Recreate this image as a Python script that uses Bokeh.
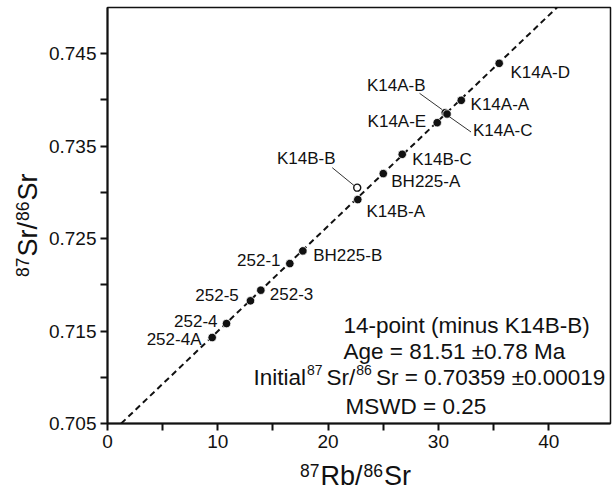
import math
from bokeh.plotting import figure
from bokeh.layouts import row, column
from bokeh.models import (Range1d, FixedTicker, PrintfTickFormatter, Label,
                          ColumnDataSource, Div)
from bokeh.core.properties import value
from bokeh.embed import file_html
from bokeh.resources import INLINE

# ---- data ----
names = ["252-4A", "252-4", "252-5", "252-3", "252-1", "BH225-B", "K14B-A",
         "BH225-A", "K14B-C", "K14A-E", "K14A-B", "K14A-C", "K14A-A", "K14A-D"]
rb_sr = [9.49, 10.79, 12.96, 13.90, 16.53, 17.71, 22.69,
         25.00, 26.72, 29.89, 30.62, 30.78, 32.07, 35.51]
sr_sr = [0.71430, 0.71581, 0.71827, 0.71942, 0.72230, 0.72367, 0.72922,
         0.73203, 0.73412, 0.73754, 0.73862, 0.73848, 0.73996, 0.74396]
excluded_names = ["K14B-B"]
excluded_rb_sr = [22.64]
excluded_sr_sr = [0.73051]
isochron_x = [1.24, 40.75]
isochron_y = [0.705, 0.750]
x_major = [0, 10, 20, 30, 40]
x_minor = [5, 15, 25, 35]
y_major = [0.705, 0.715, 0.725, 0.735, 0.745]
y_minor = [0.710, 0.720, 0.730, 0.740]
x_title = [("87", "s"), ("Rb/", "m"), ("86", "s"), ("Sr", "m")]
y_title = [("87", "s"), ("Sr/", "m"), ("86", "s"), ("Sr", "m")]
stats_line1 = "14-point (minus K14B-B)"
stats_line2 = "Age = 81.51 \u00b10.78 Ma"
stats_line3 = [("Initial", "m"), ("87", "s"), ("Sr/", "m"), ("86", "s"),
               ("Sr = 0.70359  \u00b10.00019", "m")]
stats_line4 = "MSWD = 0.25"

# ---- layout ----
W, H = 612, 491
YDIV_W = 45
XDIV_H = 31
PW, PH = W - YDIV_W, H - XDIV_H
LEFT, RIGHT, TOP, BOTTOM = 62, 2, 7, 37          # borders inside the plot
X0, X1 = 0.0, 45.6
Y0, Y1 = 0.705, 0.750
FW = PW - LEFT - RIGHT
FH = PH - TOP - BOTTOM
PX_X = FW / (X1 - X0)
PX_Y = FH / (Y1 - Y0)
FONT = "Liberation Sans"
INK = "#111111"


def data_x(px):          # px measured on the whole page
    return X0 + (px - YDIV_W - LEFT) / PX_X


def data_y(py):
    return Y0 + (TOP + FH - py) / PX_Y


# Arial / Liberation Sans advance widths (em)
ADV = {c: 0.556 for c in "0123456789"}
ADV.update({" ": 0.278, ".": 0.278, "=": 0.584, "\u00b1": 0.549, "I": 0.278,
            "n": 0.556, "i": 0.222, "t": 0.278, "a": 0.556, "l": 0.222,
            "S": 0.667, "r": 0.333, "/": 0.278, "R": 0.722, "b": 0.556})


def text_width(s, size):
    return sum(ADV.get(c, 0.556) for c in s) * size


def rich_text(fig, parts, px, py, main, sup, raise_px, pre=1.0, post=4.0):
    adv = 0.0
    for txt, kind in parts:
        size = sup if kind == "s" else main
        if kind == "s":
            adv += pre
        fig.add_layout(Label(x=data_x(px + adv),
                             y=data_y(py - (raise_px if kind == "s" else 0.0)),
                             text=txt, text_font=FONT, text_font_size=f"{size}px",
                             text_align="left", text_baseline="alphabetic",
                             text_color=INK))
        adv += text_width(txt, size) + (post if kind == "s" else 0.0)


p = figure(width=PW, height=PH, output_backend="svg", toolbar_location=None,
           x_range=Range1d(X0, X1), y_range=Range1d(Y0, Y1),
           min_border_left=LEFT, min_border_right=RIGHT,
           min_border_top=TOP, min_border_bottom=BOTTOM)
p.grid.visible = False
p.background_fill_color = "white"
p.border_fill_color = "white"
p.outline_line_color = INK
p.outline_line_width = 1.5

for ax, maj, mnr, fmt in ((p.xaxis[0], x_major, x_minor, "%d"),
                          (p.yaxis[0], y_major, y_minor, "%.3f")):
    ax.ticker = FixedTicker(ticks=maj, minor_ticks=mnr)
    ax.formatter = PrintfTickFormatter(format=fmt)
    ax.axis_line_width = 2
    ax.axis_line_color = INK
    ax.major_tick_line_width = 2
    ax.minor_tick_line_width = 2
    ax.major_tick_line_color = INK
    ax.minor_tick_line_color = INK
    ax.major_tick_out = 7
    ax.major_tick_in = 0
    ax.minor_tick_out = 7
    ax.minor_tick_in = 0
    ax.major_label_text_font = FONT
    ax.major_label_text_font_size = "19px"
    ax.major_label_text_color = INK
p.xaxis.major_label_standoff = 4
p.yaxis.major_label_standoff = 4

# isochron
p.line(isochron_x, isochron_y, line_color=INK, line_width=2, line_dash="6 4")

# points
p.scatter(rb_sr, sr_sr, size=8.5, marker="circle", fill_color=INK,
          line_color="white", line_width=0.8)
p.scatter(excluded_rb_sr, excluded_sr_sr, size=7, marker="circle",
          fill_color="white", line_color=INK, line_width=1.4)

# label placement (screen px offsets from the point, align)
label_place = {
    "252-4A": (-10.7, 1.5, "right"),
    "252-4": (-9.0, -2.7, "right"),
    "252-5": (-11.7, -5.7, "right"),
    "252-3": (9.0, 3.4, "left"),
    "252-1": (-9.3, -3.4, "right"),
    "BH225-B": (10.4, 4.3, "left"),
    "K14B-A": (8.7, 12.0, "left"),
    "BH225-A": (8.0, 8.0, "left"),
    "K14B-C": (10.0, 5.0, "left"),
    "K14A-E": (-11.0, -0.7, "right"),
    "K14A-B": (-19.7, -27.7, "right"),
    "K14A-C": (26.0, 17.0, "left"),
    "K14A-A": (9.3, 4.0, "left"),
    "K14A-D": (11.3, 9.4, "left"),
    "K14B-B": (-21.7, -29.4, "right"),
}
leaders = {
    "K14A-B": ((-25.7, -19.4), (-3.0, -3.0)),
    "K14A-C": ((2.0, 2.5), (24.0, 18.0)),
    "K14B-B": ((-25.0, -20.0), (-3.0, -2.0)),
}

all_names = names + excluded_names
all_x = rb_sr + excluded_rb_sr
all_y = sr_sr + excluded_sr_sr
src = ColumnDataSource(dict(
    x=all_x, y=all_y, t=all_names,
    xo=[label_place[n][0] for n in all_names],
    yo=[label_place[n][1] for n in all_names],
    al=[label_place[n][2] for n in all_names]))
p.text(x="x", y="y", text="t", x_offset="xo", y_offset="yo", text_align="al",
       text_baseline="middle", text_font=value(FONT), text_font_size="17px",
       text_color=INK, source=src)

x0s, y0s, x1s, y1s = [], [], [], []
for n, ((ax_, ay_), (bx_, by_)) in leaders.items():
    i = all_names.index(n)
    x0s.append(all_x[i] + ax_ / PX_X); y0s.append(all_y[i] - ay_ / PX_Y)
    x1s.append(all_x[i] + bx_ / PX_X); y1s.append(all_y[i] - by_ / PX_Y)
p.segment(x0s, y0s, x1s, y1s, line_color="#333333", line_width=1)

# statistics text block
STAT = 22.5
for txt, (px, py) in ((stats_line1, (343, 325)), (stats_line2, (343, 351)),
                      (stats_line4, (345, 406))):
    p.add_layout(Label(x=data_x(px), y=data_y(py), text=txt, text_font=FONT,
                       text_font_size=f"{STAT}px", text_baseline="alphabetic",
                       text_align="left", text_color=INK))
rich_text(p, stats_line3, 253, 377, STAT, 14, 7.5)

# axis titles with real superscripts (HTML)
AX_MAIN, AX_SUP, AX_RAISE = 27, 17.5, 8


def title_html(parts):
    out = []
    for txt, kind in parts:
        if kind == "s":
            out.append(f"<span style='font-size:{AX_SUP}px;vertical-align:{AX_RAISE}px;"
                       f"margin-left:1px;margin-right:1px'>{txt}</span>")
        else:
            out.append(txt)
    return "".join(out)


def title_width(parts):
    return sum(text_width(t, AX_SUP if k == "s" else AX_MAIN) + (2 if k == "s" else 0)
               for t, k in parts)


BASE = 0.905 - (1.117 - 1.0) / 2      # baseline position in a line-height:1 box (em)
common = (f"position:absolute;white-space:nowrap;line-height:1;font-family:'{FONT}';"
          f"font-size:{AX_MAIN}px;color:{INK};")

xw = title_width(x_title)
x_left = 355 - YDIV_W - xw / 2
x_top = (486 - PH) - BASE * AX_MAIN
xdiv = Div(width=PW, height=XDIV_H, margin=0,
           text=(f"<div style='position:relative;width:{PW}px;height:{XDIV_H}px'>"
                 f"<div style=\"{common}left:{x_left:.1f}px;top:{x_top:.1f}px\">"
                 f"{title_html(x_title)}</div></div>"))

yw = title_width(y_title)
y_left = 38 - BASE * AX_MAIN
y_top = 226 + yw / 2
ydiv = Div(width=YDIV_W, height=H, margin=0,
           text=(f"<div style='position:relative;width:{YDIV_W}px;height:{H}px'>"
                 f"<div style=\"{common}left:{y_left:.1f}px;top:{y_top:.1f}px;"
                 f"transform-origin:0 0;transform:rotate(-90deg)\">"
                 f"{title_html(y_title)}</div></div>"))

layout = row(ydiv, column(p, xdiv, spacing=0), spacing=0)
open("out.html", "w").write(file_html(layout, INLINE))
